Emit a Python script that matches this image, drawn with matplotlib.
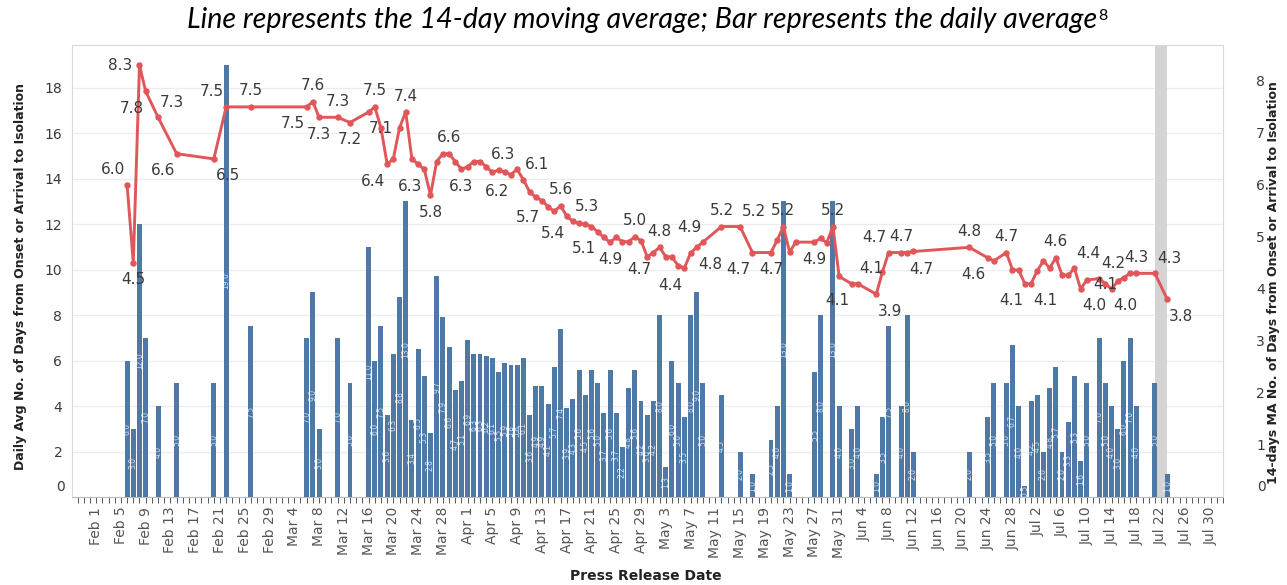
import datetime as dt
import numpy as np
import matplotlib
matplotlib.use("Agg")
import matplotlib.pyplot as plt
import matplotlib.dates as mdates
from matplotlib.ticker import FuncFormatter, FixedLocator

# ---------------- data ----------------
feb_days = [6, 7, 8, 9, 11, 14, 20, 22, 26]
feb_bars = [6.0, 3.0, 12.0, 7.0, 4.0, 5.0, 5.0, 19.0, 7.5]
feb_ma = [6.0, 4.5, 8.3, 7.8, 7.3, 6.6, 6.5, 7.5, 7.5]

mar_days = [6, 7, 8, 11, 13, 16, 17, 18, 19, 20, 21, 22, 23, 24, 25, 26, 27, 28, 29, 30, 31]
mar_bars = [7.0, 9.0, 3.0, 7.0, 5.0, 11.0, 6.0, 7.5, 3.6, 6.3, 8.8, 13.0, 3.4, 6.5, 5.3, 2.8,
            9.7, 7.9, 6.6, 4.7, 5.1]
mar_ma = [7.5, 7.6, 7.3, 7.3, 7.2, 7.4, 7.5, 7.1, 6.4, 6.5, 7.1, 7.4, 6.5, 6.4, 6.3, 5.8,
          6.45, 6.6, 6.6, 6.45, 6.3]

apr_days = list(range(1, 31))
apr_bars = [6.9, 6.3, 6.3, 6.2, 6.1, 5.5, 5.9, 5.8, 5.8, 6.1,
            3.6, 4.9, 4.9, 4.1, 5.7, 7.4, 3.9, 4.3, 5.6, 4.5,
            5.6, 5.0, 3.7, 5.6, 3.7, 2.2, 4.8, 5.6, 4.2, 3.6]
apr_ma = [6.35, 6.45, 6.45, 6.35, 6.24, 6.29, 6.24, 6.2, 6.3, 6.1,
          5.87, 5.76, 5.7, 5.58, 5.49, 5.6, 5.4, 5.3, 5.26, 5.24,
          5.2, 5.1, 4.99, 4.9, 4.99, 4.91, 4.91, 5.0, 4.93, 4.62]

may_days = [1, 2, 3, 4, 5, 6, 7, 8, 9, 12, 15, 17, 20, 21, 22, 23, 24, 27, 28, 29, 30, 31]
may_bars = [4.2, 8.0, 1.3, 6.0, 5.0, 3.5, 8.0, 9.0, 5.0, 4.5, 2.0, 1.0, 2.5, 4.0, 13.0, 1.0,
            0.0, 5.5, 8.0, 0.0, 13.0, 4.0]
may_ma = [4.7, 4.8, 4.62, 4.61, 4.45, 4.4, 4.69, 4.8, 4.9, 5.2, 5.2, 4.7, 4.7, 4.94, 5.2, 4.71,
          4.9, 4.9, 4.97, 4.89, 5.2, 4.24]

jun_days = [2, 3, 6, 7, 8, 10, 11, 12, 21, 24, 25, 27, 28, 29, 30]
jun_bars = [3.0, 4.0, 1.0, 3.5, 7.5, 4.0, 8.0, 2.0, 2.0, 3.5, 5.0, 5.0, 6.7, 4.0, 0.5]
jun_ma = [4.1, 4.1, 3.9, 4.33, 4.7, 4.7, 4.7, 4.72, 4.8, 4.6, 4.54, 4.7, 4.37, 4.36, 4.1]

jul_days = [1, 2, 3, 4, 5, 6, 7, 8, 9, 10, 12, 13, 14, 15, 16, 17, 18, 21, 23]
jul_bars = [4.2, 4.5, 2.0, 4.8, 5.7, 2.0, 3.3, 5.3, 1.6, 5.0, 7.0, 5.0, 4.0, 3.0, 6.0, 7.0,
            4.0, 5.0, 1.0]
jul_ma = [4.1, 4.35, 4.54, 4.4, 4.6, 4.27, 4.26, 4.4, 4.0, 4.17, 4.2, 4.1, 4.0, 4.15, 4.22,
          4.3, 4.3, 4.3, 3.8]

# which moving-average points carry a value label, and where it sits
ma_labels = {
    (2, 6): "ul", (2, 7): "b", (2, 8): "l", (2, 9): "bl", (2, 11): "ur", (2, 14): "bl",
    (2, 20): "br", (2, 22): "ul", (2, 26): "u",
    (3, 6): "bl", (3, 7): "u", (3, 8): "b", (3, 11): "u", (3, 13): "b", (3, 17): "u",
    (3, 18): "c", (3, 19): "bl", (3, 22): "u", (3, 25): "bl", (3, 26): "b", (3, 29): "u",
    (3, 31): "b",
    (4, 8): "bl", (4, 9): "ul", (4, 10): "ur", (4, 13): "bl", (4, 16): "u", (4, 17): "bl",
    (4, 18): "ur", (4, 22): "bl", (4, 24): "b", (4, 28): "u",
    (5, 1): "bl", (5, 2): "u", (5, 6): "bl", (5, 8): "br", (5, 9): "ul", (5, 12): "u",
    (5, 15): "ur", (5, 17): "bl", (5, 20): "b", (5, 22): "u", (5, 27): "b", (5, 30): "u",
    (6, 2): "bl", (6, 3): "ur", (6, 6): "br", (6, 8): "ul", (6, 10): "u", (6, 11): "br",
    (6, 21): "u", (6, 24): "bl", (6, 27): "u", (6, 30): "bl",
    (7, 1): "br", (7, 5): "u", (7, 8): "ur", (7, 9): "br", (7, 12): "ur", (7, 13): "c",
    (7, 14): "br", (7, 18): "u", (7, 21): "ur", (7, 23): "br",
}

band_start = (7, 21)
band_end = (7, 23)
tick_start = (2, 1)
tick_step_days = 4
tick_count = 46
left_ticks = list(range(0, 19, 2))
right_ticks = list(range(0, 9))
title = "Line represents the 14-day moving average; Bar represents the daily average"
title_note = "8"
xlabel = "Press Release Date"
ylabel_left = "Daily Avg No. of Days from Onset or Arrival to Isolation"
ylabel_right = "14-days MA No. of Days from Onset or Arrival to Isolation"

# ---------------- build ----------------
YEAR = 2020
months = [(2, feb_days, feb_bars, feb_ma), (3, mar_days, mar_bars, mar_ma),
          (4, apr_days, apr_bars, apr_ma), (5, may_days, may_bars, may_ma),
          (6, jun_days, jun_bars, jun_ma), (7, jul_days, jul_bars, jul_ma)]
keys, bars, ma = [], [], []
for m, ds, bs, ms in months:
    for d, b, v in zip(ds, bs, ms):
        keys.append((m, d))
        bars.append(b)
        ma.append(v)
x = np.array([mdates.date2num(dt.date(YEAR, m, d)) for m, d in keys])
bars = np.array(bars)
ma = np.array(ma)

W, H = 1287, 585
fig = plt.figure(figsize=(W / 100, H / 100), dpi=100)
ax = fig.add_axes([72 / W, 1 - 497 / H, (1223 - 72) / W, (497 - 45) / H])
ax2 = ax.twinx()

BLUE = "#4e79a7"
RED = "#e15759"
TXT = "#3a3a3a"

x0 = mdates.date2num(dt.date(YEAR, *tick_start))
ax.set_xlim(x0 - 3.9, x0 + 182.0)
ax.set_ylim(0, 19.87)
ax2.set_ylim(0, 8.69)

b0 = mdates.date2num(dt.date(YEAR, *band_start))
b1 = mdates.date2num(dt.date(YEAR, *band_end))
ax.axvspan(b0, b1, color="#d4d4d4", zorder=1, lw=0)

ax.set_axisbelow(True)
ax.yaxis.grid(True, color="#ececec", lw=0.9, zorder=0)
ax.bar(x, bars, width=0.8, color=BLUE, zorder=3)
for xi, b in zip(x, bars):
    if b > 0:
        ax.text(xi, b / 2, f"{b:.1f}", rotation=90, ha="center", va="center",
                color="white", alpha=0.75, fontsize=5.5, zorder=4)

ax2.plot(x, ma, color=RED, lw=2.1, marker="o", ms=3.6, zorder=5, solid_joinstyle="round")
offs = {"u": (0, 16), "b": (0, -17), "ul": (-14, 15), "ur": (14, 15), "bl": (-14, -17),
        "br": (14, -17), "l": (-19, 0), "c": (0, -1)}
for k, xi, v in zip(keys, x, ma):
    if k in ma_labels:
        dx, dy = offs[ma_labels[k]]
        ax2.annotate(f"{v:.1f}", (xi, v), xytext=(dx, dy), textcoords="offset pixels",
                     ha="center", va="center", fontsize=11, color=TXT, zorder=6)

# x axis
ticks = [x0 + i * tick_step_days for i in range(tick_count)]
ax.xaxis.set_major_locator(FixedLocator(ticks))
ax.xaxis.set_minor_locator(mdates.DayLocator())
ax.xaxis.set_major_formatter(FuncFormatter(
    lambda v, p: (lambda d: f"{d:%b} {d.day}")(mdates.num2date(v))))
ax.tick_params(axis="x", which="both", length=4, width=0.7, color="#555555",
               labelsize=10, labelcolor="#555555", labelrotation=90, pad=3)

# y axes
ax.set_yticks(left_ticks)
ax.yaxis.set_major_formatter(FuncFormatter(lambda v, p: "" if v == 0 else f"{int(v)}"))
ax.tick_params(axis="y", length=0, labelsize=10, labelcolor=TXT, pad=7)
ax.annotate("0", xy=(0, 0), xycoords=("axes fraction", "data"), xytext=(-7, 10),
            textcoords="offset pixels", ha="right", va="center", fontsize=10, color=TXT)
ax2.set_yticks(right_ticks)
ax2.yaxis.set_major_formatter(FuncFormatter(lambda v, p: "" if v == 0 else f"{int(v)}"))
ax2.tick_params(axis="y", length=0, labelsize=10, labelcolor=TXT, pad=24)
ax2.annotate("0", xy=(1, 0), xycoords=("axes fraction", "data"), xytext=(34, 10),
             textcoords="offset pixels", ha="left", va="center", fontsize=10, color=TXT)

for a in (ax, ax2):
    for s in a.spines.values():
        s.set_visible(False)
for s in ("top", "left", "right"):
    ax.spines[s].set_visible(True)
    ax.spines[s].set_color("#d9d9d9")
    ax.spines[s].set_linewidth(0.8)
ax.spines["bottom"].set_visible(True)
ax.spines["bottom"].set_color("#bbbbbb")
ax.spines["bottom"].set_linewidth(0.8)

# labels
fig.text(646 / W, 1 - 576 / H, xlabel, ha="center", va="center", fontsize=10,
         fontweight="bold", color="#222222")
fig.text(21 / W, 1 - 277 / H, ylabel_left, rotation=90, ha="center", va="center",
         fontsize=9, fontweight="bold", color="#222222")
fig.text(1274 / W, 1 - 283 / H, ylabel_right, rotation=90, ha="center", va="center",
         fontsize=9, fontweight="bold", color="#222222")

t = fig.text(187 / W, 1 - 28 / H, title, ha="left", va="baseline", fontsize=17,
             style="italic", family=["Lato", "DejaVu Sans"], color="black")
fig.canvas.draw()
bb = t.get_window_extent()
t.set_fontsize(17 * 910 / bb.width)
fig.canvas.draw()
bb = t.get_window_extent()
fig.text((bb.x1 + 1) / W, 1 - 20 / H, title_note, ha="left", va="baseline", fontsize=11.5,
         family=["Lato", "DejaVu Sans"], color="black")

fig.savefig("out.png", dpi=100)
